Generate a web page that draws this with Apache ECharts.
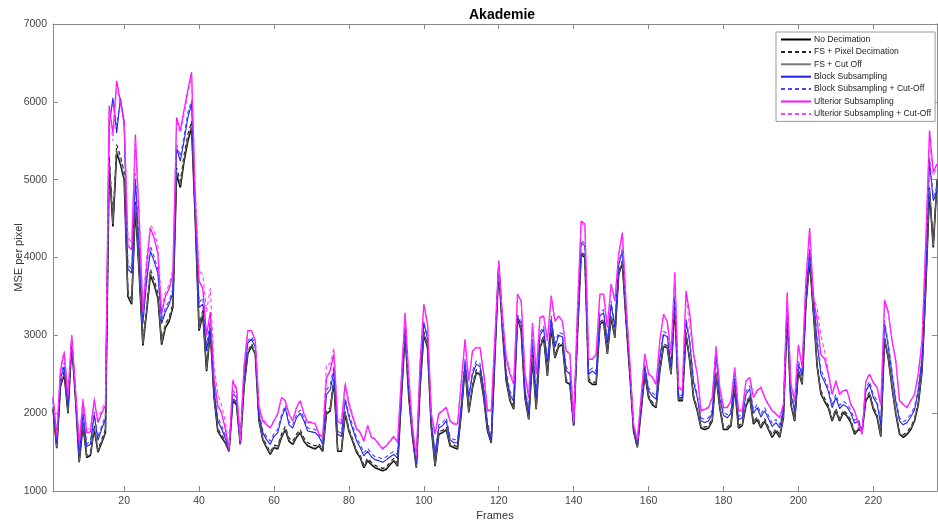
<!DOCTYPE html>
<html>
<head>
<meta charset="utf-8">
<title>Akademie</title>
<script src="https://cdn.jsdelivr.net/npm/echarts@6/dist/echarts.min.js"></script>
<style>
  html, body { margin: 0; padding: 0; background: #fff; }
  #chart { width: 938px; height: 522px; }
</style>
</head>
<body>
<div id="chart"></div>
<script>
// frame numbers 1..237 (x positions only)
var frames = [];
for (var f = 1; f <= 237; f++) frames.push(f);

var xTicks = [20, 40, 60, 80, 100, 120, 140, 160, 180, 200, 220];

//No Decimation
var noDecimation = [
  2050,1550,2350,2500,2000,2900,2200,1370,1850,1430,
  1460,1800,1500,1620,1750,5200,4400,5350,5200,5000,
  3500,3400,4650,3800,2870,3300,3780,3650,3480,2880,
  3100,3180,3360,5070,4900,5240,5500,5670,4470,3060,
  3270,2540,3060,2200,1770,1690,1620,1510,2160,2110,
  1600,2330,2760,2860,2760,1900,1660,1560,1470,1560,
  1540,1690,1790,1640,1600,1690,1750,1640,1580,1560,
  1540,1580,1510,1990,2030,2410,1510,1510,1990,1770,
  1640,1500,1430,1300,1390,1340,1300,1280,1260,1280,
  1340,1390,1320,2200,3030,2200,1690,1300,2330,3010,
  2840,1810,1320,1730,1750,1790,1580,1560,1540,2000,
  2590,2010,2330,2520,2500,2200,1770,1620,2760,3870,
  3060,2410,2160,2050,3230,3060,2200,1920,2710,2050,
  2840,2970,2480,3100,2710,2860,2880,2400,2370,1840,
  3000,4040,4000,2410,2370,2370,3140,3180,2760,3230,
  2970,3780,3930,3180,2500,1770,1560,2030,2500,2200,
  2110,2070,2540,2860,2840,2500,3400,2160,2160,3010,
  2670,2200,2030,1810,1790,1810,1900,2500,2070,1790,
  1790,1840,2330,1810,1840,2090,2200,1860,1920,1810,
  1900,1790,1690,1770,1690,1940,3270,2110,1900,2540,
  2370,3400,3960,3300,2600,2250,2150,2070,1900,2030,
  1900,2010,1960,1880,1730,1790,1770,2160,2240,2050,
  1950,1700,2950,2700,2330,1990,1730,1690,1730,1790,
  1900,2110,2540,3610,4860,4130,4980
];

//FS + Pixel Decimation
var fsPixel = [
  2080,1570,2380,2540,2030,2920,2230,1400,1890,1460,
  1490,1840,1530,1660,1790,5300,4500,5450,5300,5100,
  3550,3460,4720,3850,2920,3360,3850,3720,3540,2930,
  3150,3230,3410,5150,4980,5320,5580,5750,4520,3120,
  3320,2590,3100,2240,1800,1720,1650,1520,2190,2140,
  1610,2360,2790,2890,2790,1930,1690,1590,1500,1590,
  1580,1730,1830,1680,1640,1730,1790,1680,1620,1600,
  1580,1610,1530,2030,2070,2440,1540,1540,2020,1800,
  1670,1520,1460,1330,1420,1370,1330,1310,1290,1310,
  1370,1420,1350,2230,3060,2230,1710,1320,2360,3050,
  2870,1840,1350,1760,1780,1820,1610,1590,1570,2030,
  2620,2050,2370,2560,2540,2240,1800,1640,2790,3890,
  3090,2440,2190,2080,3250,3090,2230,1950,2750,2080,
  2870,3000,2510,3130,2740,2890,2910,2430,2400,1850,
  3030,4070,4030,2440,2400,2400,3170,3210,2790,3260,
  3000,3810,3960,3210,2520,1790,1570,2050,2530,2230,
  2140,2100,2570,2890,2870,2530,3420,2180,2180,3040,
  2700,2230,2060,1840,1820,1840,1930,2530,2100,1820,
  1820,1870,2360,1840,1870,2120,2230,1890,1950,1840,
  1930,1820,1720,1800,1720,1970,3290,2140,1930,2570,
  2400,3420,3980,3330,2640,2290,2190,2100,1930,2060,
  1930,2040,1990,1910,1760,1810,1770,2190,2270,2080,
  1980,1730,2980,2730,2360,2020,1760,1720,1760,1820,
  1930,2140,2570,3640,4900,4170,5010
];

//FS + Cut Off
var fsCut = [
  2060,1560,2360,2510,2010,2910,2210,1380,1870,1440,
  1470,1810,1510,1630,1760,5230,4430,5380,5230,5030,
  3520,3420,4670,3820,2890,3320,3800,3670,3500,2900,
  3120,3200,3380,5100,4930,5270,5530,5700,4490,3080,
  3290,2560,3070,2210,1780,1700,1630,1510,2170,2120,
  1600,2340,2770,2870,2770,1910,1670,1570,1480,1570,
  1550,1700,1800,1650,1610,1700,1760,1650,1590,1570,
  1550,1590,1520,2000,2040,2420,1520,1520,2000,1780,
  1650,1510,1440,1310,1400,1350,1310,1290,1270,1290,
  1350,1400,1330,2210,3040,2210,1700,1310,2340,3020,
  2850,1820,1330,1740,1760,1800,1590,1570,1550,2010,
  2600,2020,2340,2530,2510,2210,1780,1630,2770,3880,
  3070,2420,2170,2060,3240,3070,2210,1930,2720,2060,
  2850,2980,2490,3110,2720,2870,2890,2410,2380,1840,
  3010,4050,4010,2420,2380,2380,3150,3190,2770,3240,
  2980,3790,3940,3190,2510,1780,1560,2040,2510,2210,
  2120,2080,2550,2870,2850,2510,3410,2170,2170,3020,
  2680,2210,2040,1820,1800,1820,1910,2510,2080,1800,
  1800,1850,2340,1820,1850,2100,2210,1870,1930,1820,
  1910,1800,1700,1780,1700,1950,3280,2120,1910,2550,
  2380,3410,3970,3310,2610,2260,2160,2080,1910,2040,
  1910,2020,1970,1890,1740,1800,1770,2170,2250,2060,
  1960,1710,2960,2710,2340,2000,1740,1700,1740,1800,
  1910,2120,2550,3620,4880,4150,4990
];

//Block Subsampling
var blockSub = [
  2150,1620,2450,2600,2100,2950,2250,1450,2000,1570,
  1600,1980,1650,1800,1920,5700,6050,5600,6050,5700,
  3850,3800,5000,4100,3150,3700,4080,3950,3800,3150,
  3300,3400,3550,5400,5240,5500,5800,5970,4600,3360,
  3400,2800,3100,2300,1900,1800,1680,1520,2250,2200,
  1620,2450,2900,2950,2850,1980,1750,1660,1600,1700,
  1750,1940,2070,1850,1810,1940,2000,1900,1770,1760,
  1750,1700,1600,2240,2300,2540,1730,1700,2160,1950,
  1800,1650,1560,1450,1510,1440,1400,1390,1370,1400,
  1440,1470,1420,2300,3150,2300,1750,1350,2450,3160,
  2950,1900,1470,1810,1840,1900,1660,1620,1620,2100,
  2670,2200,2500,2630,2600,2300,1850,1650,2850,3900,
  3150,2500,2240,2150,3230,3150,2300,2000,2910,2200,
  3000,3080,2650,3210,2850,3000,2980,2550,2500,1850,
  3100,4190,4150,2500,2540,2500,3250,3290,2900,3400,
  3100,3900,4080,3300,2550,1800,1600,2100,2600,2290,
  2220,2180,2700,3010,2980,2600,3480,2200,2200,3180,
  2900,2400,2200,1900,1880,1900,2000,2760,2200,1970,
  1940,2000,2450,1920,1940,2240,2310,2000,2070,1950,
  2030,1930,1830,1880,1810,2030,3400,2240,2030,2630,
  2480,3500,4080,3500,2900,2500,2400,2280,2070,2200,
  2060,2110,2080,2000,1870,1900,1760,2280,2370,2200,
  2120,1850,3150,2850,2500,2150,1900,1850,1880,1950,
  2040,2280,2700,3800,5240,4730,4850
];

//Block Subsampling + Cut-Off
var blockCut = [
  2190,1650,2490,2650,2130,2970,2270,1480,2040,1600,
  1640,2020,1690,1840,1960,5780,6000,5700,6030,5750,
  3900,3850,5080,4160,3200,3750,4150,4010,3850,3190,
  3350,3440,3600,5450,5300,5560,5860,6020,4650,3420,
  3480,2880,3180,2360,1950,1840,1720,1530,2290,2240,
  1630,2480,2930,2980,2880,2010,1780,1700,1640,1740,
  1790,1980,2100,1890,1850,1980,2040,1940,1810,1800,
  1790,1730,1620,2300,2360,2600,1770,1740,2200,1990,
  1840,1690,1600,1490,1550,1480,1440,1430,1410,1440,
  1480,1510,1460,2330,3170,2330,1780,1370,2480,3180,
  2980,1930,1500,1850,1880,1940,1700,1660,1660,2140,
  2700,2240,2540,2670,2640,2340,1890,1680,2880,3920,
  3190,2540,2280,2190,3260,3190,2340,2040,2950,2240,
  3040,3120,2690,3250,2890,3040,3020,2590,2540,1860,
  3130,4220,4180,2540,2580,2540,3290,3330,2940,3440,
  3140,3930,4110,3330,2580,1820,1620,2130,2640,2330,
  2260,2220,2740,3050,3020,2640,3520,2230,2230,3220,
  2940,2440,2240,1940,1920,1940,2040,2800,2240,2010,
  1980,2040,2490,1960,1980,2280,2350,2040,2110,1990,
  2070,1970,1870,1920,1850,2070,3440,2280,2070,2670,
  2520,3540,4110,3560,2960,2560,2450,2320,2110,2240,
  2100,2150,2120,2040,1910,1930,1780,2320,2410,2240,
  2160,1890,3190,2890,2540,2190,1940,1890,1920,1990,
  2080,2320,2740,3840,5280,4780,4900
];

//Ulterior Subsampling
var ulteriorSub = [
  2200,1700,2550,2780,2200,3000,2300,1600,2160,1750,
  1760,2170,1880,2000,2100,5950,5600,6270,6000,5750,
  4150,4100,5580,4500,3300,3900,4380,4250,4050,3270,
  3500,3600,3780,5800,5630,5900,6150,6380,4700,3700,
  3600,3000,3300,2450,2100,2000,1800,1530,2410,2300,
  1640,2600,3060,3060,2930,2070,1900,1850,1810,1900,
  1990,2200,2160,1990,1900,2070,2160,1990,1880,1880,
  1860,1730,1690,2450,2550,2760,1900,1860,2370,2110,
  1950,1800,1750,1640,1840,1690,1660,1600,1540,1580,
  1640,1700,1620,2450,3290,2450,1810,1430,2650,3400,
  3140,1990,1730,1990,2030,2070,1900,1860,1860,2400,
  2950,2410,2800,2840,2840,2500,2030,2030,3000,3960,
  3250,2710,2500,2370,3530,3440,2500,2200,3160,2500,
  3230,3250,2930,3510,3180,3250,3180,2800,2760,1870,
  3300,4470,4430,2690,2690,2760,3530,3530,3100,3660,
  3440,4040,4320,3400,2650,1850,1650,2200,2760,2500,
  2460,2370,2930,3270,3180,2750,3810,2330,2290,3570,
  3270,2760,2500,2030,2050,2070,2200,2860,2330,2070,
  2070,2160,2590,2030,2030,2410,2460,2200,2290,2330,
  2200,2110,2030,1990,1940,2110,3550,2370,2160,2880,
  2590,3700,4380,3480,3200,2750,2700,2500,2240,2410,
  2240,2290,2290,2110,2030,1860,1730,2410,2500,2390,
  2330,2100,3450,3300,2930,2670,2160,2110,2070,2160,
  2240,2500,2930,4200,5630,5100,5200
];

//Ulterior Subsampling + Cut-Off
var ulteriorCut = [
  2220,1750,2600,2800,2250,3000,2320,1650,2200,1800,
  1800,2200,1920,2050,2150,5900,5500,6200,5950,5800,
  4250,4200,5500,4600,3400,4000,4420,4350,4150,3350,
  3550,3650,3850,5750,5600,5850,6100,6330,4900,3830,
  3780,3300,3610,2600,2250,2100,1900,1560,2430,2330,
  1660,2620,3060,3050,2950,2100,1920,1870,1820,1910,
  2000,2200,2170,2000,1910,2080,2170,2000,1890,1890,
  1870,1740,1700,2630,2630,2840,1950,1900,2400,2150,
  1980,1820,1760,1650,1850,1700,1670,1610,1550,1590,
  1650,1710,1630,2450,3250,2450,1820,1440,2640,3350,
  3150,2000,1740,2000,2040,2080,1910,1870,1870,2400,
  2900,2420,2800,2850,2850,2520,2050,2040,3000,3940,
  3180,2750,2550,2400,3500,3430,2520,2220,3150,2520,
  3220,3240,2940,3480,3190,3240,3180,2810,2770,1880,
  3300,4440,4400,2700,2700,2770,3520,3520,3110,3640,
  3440,4030,4290,3420,2670,1870,1660,2210,2760,2510,
  2470,2380,2920,3250,3180,2760,3750,2340,2300,3500,
  3100,2780,2520,2040,2060,2080,2210,2850,2340,2080,
  2080,2170,2580,2040,2040,2420,2460,2210,2300,2340,
  2210,2120,2040,2000,1950,2120,3500,2380,2170,2870,
  2600,3650,4300,3500,3350,3000,2800,2550,2260,2420,
  2250,2300,2300,2120,2040,1870,1740,2420,2510,2400,
  2340,2110,3400,3280,2950,2680,2170,2120,2080,2170,
  2250,2510,2930,4150,5500,5050,5150
];

var FONT = '"Liberation Sans", Arial, sans-serif';
var AXIS_GRAY = '#8a8a8a';

function pairs(arr) {
  return frames.map(function (fr, i) { return [fr, arr[i]]; });
}

function line(name, arr, color, width, dashed) {
  return {
    name: name,
    type: 'line',
    data: pairs(arr),
    symbol: 'none',
    showSymbol: false,
    smooth: false,
    lineStyle: { color: color, width: width, type: dashed ? [4, 3] : 'solid' },
    itemStyle: { color: color },
    emphasis: { disabled: true }
  };
}

var chart = echarts.init(document.getElementById('chart'), null, { renderer: 'canvas' });

chart.setOption({
  animation: false,
  backgroundColor: '#ffffff',
  title: {
    text: 'Akademie',
    left: 464,
    top: 3,
    textStyle: { fontFamily: FONT, fontSize: 14, fontWeight: 'bold', color: '#000' }
  },
  legend: {
    orient: 'vertical',
    left: 776,
    top: 32,
    itemWidth: 30,
    itemHeight: 9,
    itemGap: 3.4,
    padding: [3, 4, 3, 4],
    backgroundColor: '#fff',
    borderColor: '#9a9a9a',
    borderWidth: 1,
    borderRadius: 0,
    itemStyle: { opacity: 0 },
    textStyle: { fontFamily: FONT, fontSize: 8.6, color: '#222', padding: [0, 0, 0, -2] },
    data: ['No Decimation', 'FS + Pixel Decimation', 'FS + Cut Off', 'Block Subsampling',
           'Block Subsampling + Cut-Off', 'Ulterior Subsampling', 'Ulterior Subsampling + Cut-Off']
  },
  grid: { left: 53, right: 1, top: 24, bottom: 31, containLabel: false, outerBoundsMode: 'none' },
  xAxis: [
    {
      type: 'value',
      min: 1,
      max: 237,
      name: 'Frames',
      nameLocation: 'middle',
      nameGap: 19,
      nameMoveOverlap: false,
      nameTextStyle: { fontFamily: FONT, fontSize: 11, color: '#333' },
      axisLine: { show: true, lineStyle: { color: AXIS_GRAY, width: 1 } },
      axisTick: { show: true, inside: true, length: 5, customValues: xTicks, lineStyle: { color: AXIS_GRAY } },
      axisLabel: { customValues: xTicks, margin: 5, fontFamily: FONT, fontSize: 10.5, color: '#444' },
      splitLine: { show: false }
    },
    {
      type: 'value',
      position: 'top',
      min: 1,
      max: 237,
      axisLine: { show: true, lineStyle: { color: AXIS_GRAY, width: 1 } },
      axisTick: { show: true, inside: true, length: 5, customValues: xTicks, lineStyle: { color: AXIS_GRAY } },
      axisLabel: { show: false },
      splitLine: { show: false }
    }
  ],
  yAxis: [
    {
      type: 'value',
      min: 1000,
      max: 7000,
      interval: 1000,
      name: 'MSE per pixel',
      nameLocation: 'middle',
      nameGap: 29,
      nameMoveOverlap: false,
      nameTextStyle: { fontFamily: FONT, fontSize: 11, color: '#333' },
      axisLine: { show: true, lineStyle: { color: AXIS_GRAY, width: 1 } },
      axisTick: { show: true, inside: true, length: 5, lineStyle: { color: AXIS_GRAY } },
      axisLabel: {
        margin: 6, fontFamily: FONT, fontSize: 10.5, color: '#444',
        formatter: function (v) { return String(v); }
      },
      splitLine: { show: false }
    },
    {
      type: 'value',
      position: 'right',
      min: 1000,
      max: 7000,
      interval: 1000,
      axisLine: { show: true, lineStyle: { color: AXIS_GRAY, width: 1 } },
      axisTick: { show: true, inside: true, length: 5, lineStyle: { color: AXIS_GRAY } },
      axisLabel: { show: false },
      splitLine: { show: false }
    }
  ],
  series: [
    line('No Decimation', noDecimation, '#000000', 1.6, false),
    line('FS + Pixel Decimation', fsPixel, '#222222', 1.2, true),
    line('FS + Cut Off', fsCut, '#7a7a7a', 0.8, false),
    line('Block Subsampling', blockSub, '#2020e8', 1.1, false),
    line('Block Subsampling + Cut-Off', blockCut, '#4646ff', 1.1, true),
    line('Ulterior Subsampling', ulteriorSub, '#ff10ff', 1.3, false),
    line('Ulterior Subsampling + Cut-Off', ulteriorCut, '#ff40ff', 1.1, true)
  ]
});
</script>
</body>
</html>
